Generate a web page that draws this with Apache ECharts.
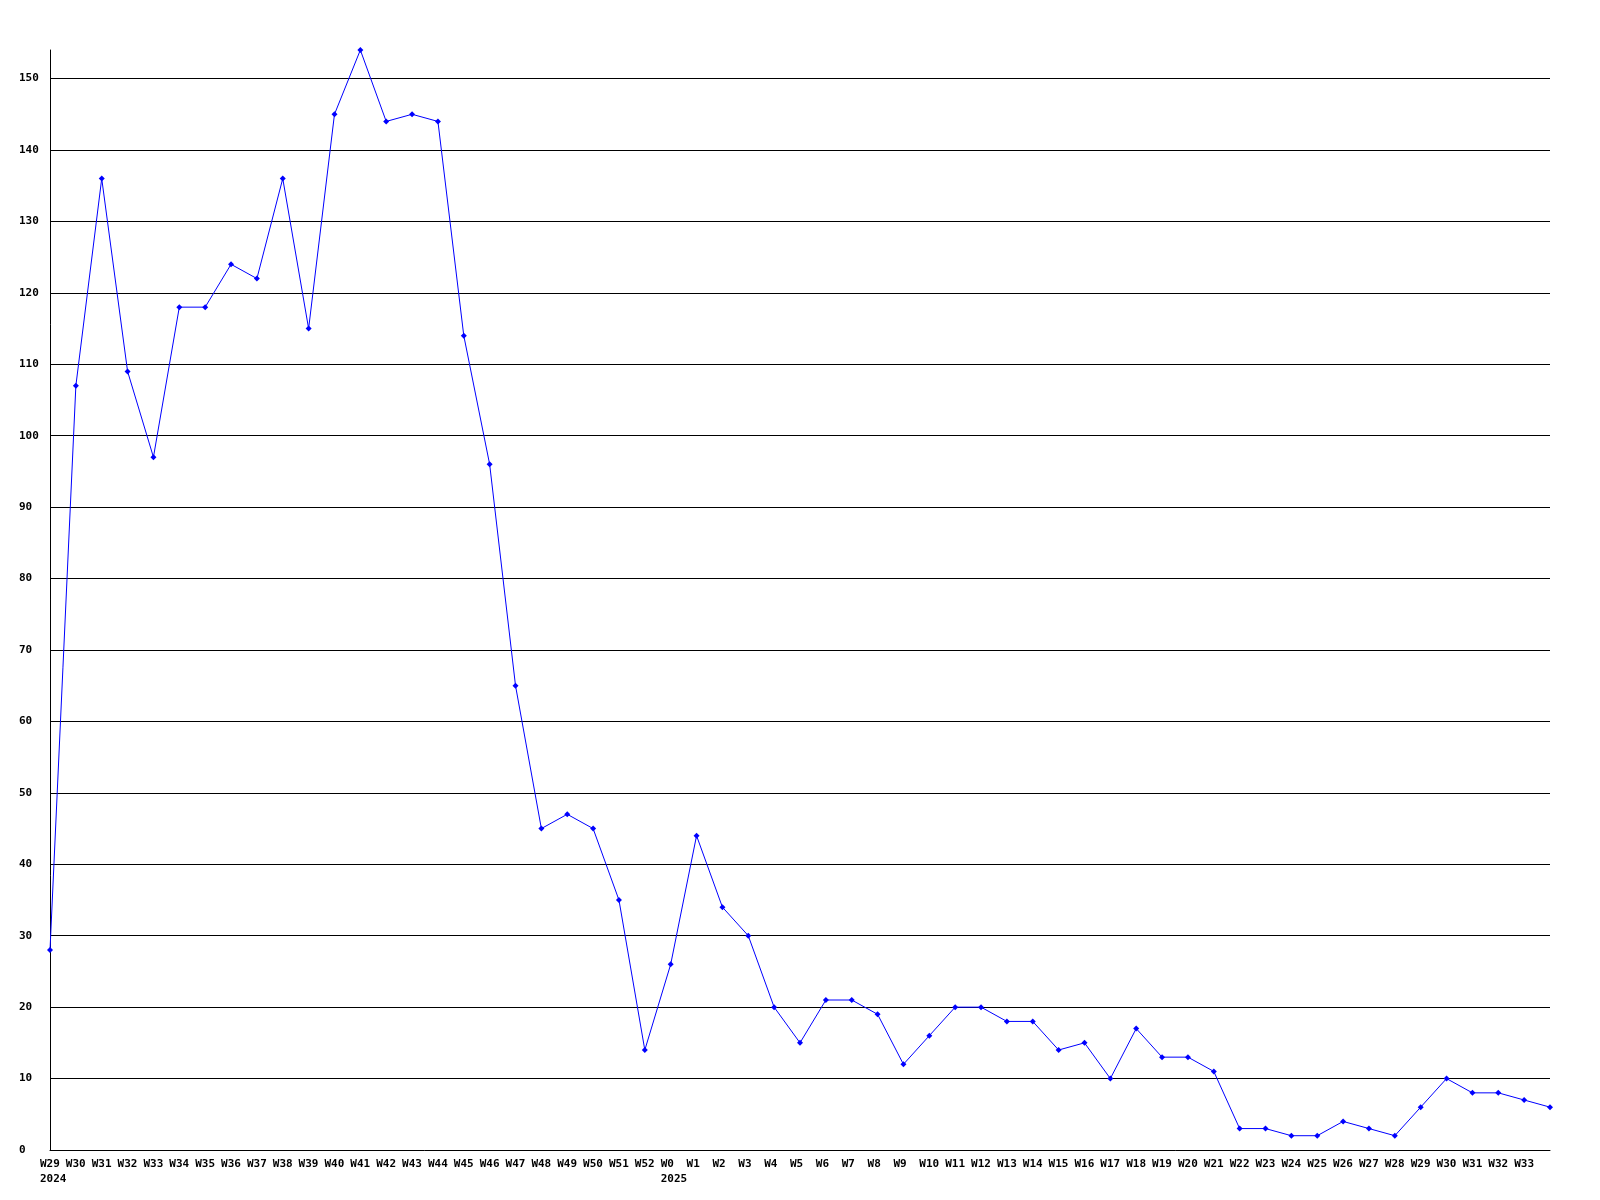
<!DOCTYPE html>
<html>
<head>
<meta charset="utf-8">
<script src="https://cdn.jsdelivr.net/npm/echarts@6/dist/echarts.min.js"></script>
<style>html,body{margin:0;padding:0;background:#fff}#c{width:1600px;height:1200px}</style>
</head>
<body>
<div id="c"></div>
<script>
const categories = [
  'W29\n2024','W30','W31','W32','W33','W34','W35','W36','W37','W38','W39','W40','W41','W42','W43','W44',
  'W45','W46','W47','W48','W49','W50','W51','W52',
  'W0\n2025','W1','W2','W3','W4','W5','W6','W7','W8','W9','W10','W11','W12','W13','W14','W15','W16',
  'W17','W18','W19','W20','W21','W22','W23','W24','W25','W26','W27','W28','W29','W30','W31','W32','W33',''
];
const values = [
  28,107,136,109,97,118,118,124,122,136,115,145,154,144,145,144,
  114,96,65,45,47,45,35,14,
  26,44,34,30,20,15,21,21,19,12,16,20,20,18,18,14,15,
  10,17,13,13,11,3,3,2,2,4,3,2,6,10,8,8,7,6
];
const yMax = 154;
const yInterval = 10;

const chart = echarts.init(document.getElementById('c'), null, {renderer: 'canvas'});
const font = '"DejaVu Sans Mono", monospace';
chart.setOption({
  animation: false,
  backgroundColor: '#ffffff',
  grid: {left: 50, right: 50, top: 50, bottom: 50, containLabel: false},
  xAxis: {
    type: 'category',
    data: categories,
    boundaryGap: false,
    axisLine: {show: true, lineStyle: {color: '#000', width: 1}},
    axisTick: {show: false},
    splitLine: {show: false},
    axisLabel: {
      interval: 0,
      margin: 7,
      color: '#000',
      fontFamily: font,
      fontWeight: 'bold',
      fontSize: 11,
      lineHeight: 15,
      formatter: function (v) {
        if (!v) return '';
        return v.split('\n').map(s => '{a|' + s + '}').join('\n');
      },
      rich: {a: {width: 20, align: 'left', fontFamily: font, fontWeight: 'bold', fontSize: 11, lineHeight: 15, color: '#000'}}
    }
  },
  yAxis: {
    type: 'value',
    min: 0,
    max: yMax,
    interval: yInterval,
    axisLine: {show: true, lineStyle: {color: '#000', width: 1}},
    axisTick: {show: false},
    splitLine: {show: true, showMaxLine: false, showMinLine: false, lineStyle: {color: '#000', width: 1}},
    axisLabel: {
      showMaxLabel: false,
      align: 'left',
      margin: 31,
      color: '#000',
      fontFamily: font,
      fontWeight: 'bold',
      fontSize: 11
    }
  },
  series: [{
    type: 'line',
    data: values,
    symbol: 'diamond',
    symbolSize: 6,
    showAllSymbol: true,
    clip: false,
    lineStyle: {color: '#0000ff', width: 1},
    itemStyle: {color: '#0000ff'}
  }]
});
</script>
</body>
</html>
